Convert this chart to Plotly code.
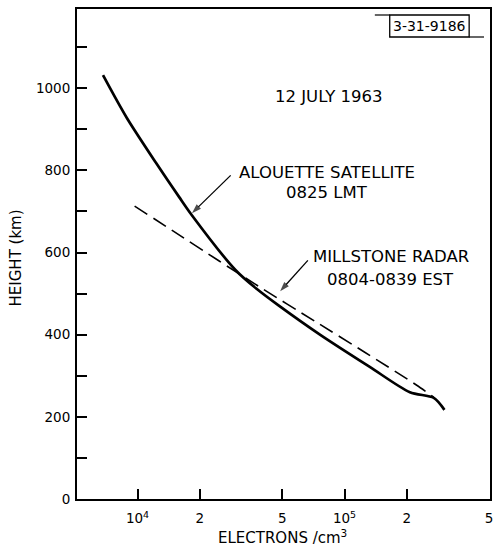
import plotly.graph_objects as go

# Alouette satellite profile (solid)
alouette_density = [6810, 8850, 12300, 15900, 18300, 29800, 38000, 47800,
                    76700, 133000, 207000, 270000, 304000]
alouette_height = [1032, 929, 818, 735, 691, 557, 510, 472,
                   399, 321, 260, 246, 217]

# Millstone radar profile (dashed)
millstone_density = [9680, 14700, 24700, 38400, 71800, 124700, 223400, 269800]
millstone_height = [713, 654, 580, 518, 433, 358, 277, 248]

x_tickvals = [1e4, 2e4, 5e4, 1e5, 2e5, 5e5]
x_ticktext = ["10<sup>4</sup>", "2", "5", "10<sup>5</sup>", "2", "5"]

FONT = "DejaVu Sans"
W, H = 493, 554
L, R, T, B = 77, 0, 9, 55
PW, PH = W - L - R, H - T - B


def px(x):
    return (x - L) / PW


def py(y):
    return (H - B - y) / PH


fig = go.Figure()
fig.add_trace(go.Scatter(x=alouette_density, y=alouette_height, mode="lines",
                         line=dict(color="black", width=2.7, shape="spline", smoothing=0.8),
                         showlegend=False, hoverinfo="skip"))
fig.add_trace(go.Scatter(x=millstone_density, y=millstone_height, mode="lines",
                         line=dict(color="black", width=1.6, dash="15px,7px", shape="spline",
                                   smoothing=0.6),
                         showlegend=False, hoverinfo="skip"))

# pointer arrows (tail -> tip), in log10 density / km
arrows = [((4.450, 788), (4.263, 696)), ((4.823, 581), (4.689, 506))]
for (sx, sy), (tx, ty) in arrows:
    fig.add_trace(go.Scatter(x=[10 ** sx, 10 ** tx], y=[sy, ty], mode="lines+markers",
                             line=dict(color="black", width=1.3),
                             marker=dict(symbol=["circle", "arrow"], size=[0, 10],
                                         angleref="previous", color="black",
                                         line=dict(width=0)),
                             showlegend=False, hoverinfo="skip"))

ann = []
def txt(s, x, y, size=16.5):
    ann.append(dict(text=s, x=x, y=y, xref="x", yref="y", showarrow=False,
                    xanchor="center", yanchor="middle",
                    font=dict(family=FONT, size=size, color="black")))

txt("12 JULY 1963", 4.923, 981)
txt("ALOUETTE SATELLITE", 4.914, 796)
txt("0825 LMT", 4.914, 747)
txt("MILLSTONE RADAR", 5.225, 591)
txt("0804-0839 EST", 5.220, 535)

# axis titles
ann.append(dict(text="HEIGHT (km)", x=px(16), y=py(258), xref="paper", yref="paper",
                textangle=-90, showarrow=False, xanchor="center", yanchor="middle",
                font=dict(family=FONT, size=15, color="black")))
ann.append(dict(text="ELECTRONS /cm<sup>3</sup>", x=px(284), y=py(537), xref="paper",
                yref="paper", showarrow=False, xanchor="center", yanchor="middle",
                font=dict(family=FONT, size=15, color="black")))
# figure number box
ann.append(dict(text="3-31-9186", x=px(432), y=py(26), xref="paper", yref="paper",
                showarrow=False, xanchor="center", yanchor="middle",
                font=dict(family=FONT, size=14, color="black")))

shapes = [
    dict(type="rect", xref="paper", yref="paper", x0=px(392), x1=px(472),
         y0=py(37), y1=py(15), line=dict(color="black", width=1.3)),
    dict(type="line", xref="paper", yref="paper", x0=px(377), x1=px(392),
         y0=py(15), y1=py(15), line=dict(color="black", width=1.2)),
    dict(type="line", xref="paper", yref="paper", x0=px(472), x1=px(487),
         y0=py(37), y1=py(37), line=dict(color="black", width=1.2)),
]

fig.update_layout(
    width=W, height=H, margin=dict(l=L, r=R, t=T, b=B),
    paper_bgcolor="white", plot_bgcolor="white",
    annotations=ann, shapes=shapes,
    font=dict(family=FONT, size=13, color="black"),
)
fig.update_xaxes(type="log", range=[3.7075, 5.703], tickvals=x_tickvals,
                 ticktext=x_ticktext, ticks="inside", ticklen=10, tickwidth=1.5,
                 tickcolor="black", showgrid=False, zeroline=False,
                 showline=True, linecolor="black", linewidth=2, mirror=True,
                 ticklabelstandoff=6, ticklabeloverflow="allow",
                 tickfont=dict(family=FONT, size=13.5, color="black"))
fig.update_yaxes(range=[0, 1193], tickvals=[0, 200, 400, 600, 800, 1000],
                 ticks="inside", ticklen=10, tickwidth=1.5, tickcolor="black",
                 minor=dict(tickvals=[100, 300, 500, 700, 900, 1100], ticks="inside",
                            ticklen=10, tickwidth=1.5, tickcolor="black"),
                 showgrid=False, zeroline=False, showline=True, linecolor="black",
                 linewidth=2, mirror=True, ticklabelstandoff=2,
                 tickfont=dict(family=FONT, size=13.5, color="black"))

fig.write_html("out.html")
